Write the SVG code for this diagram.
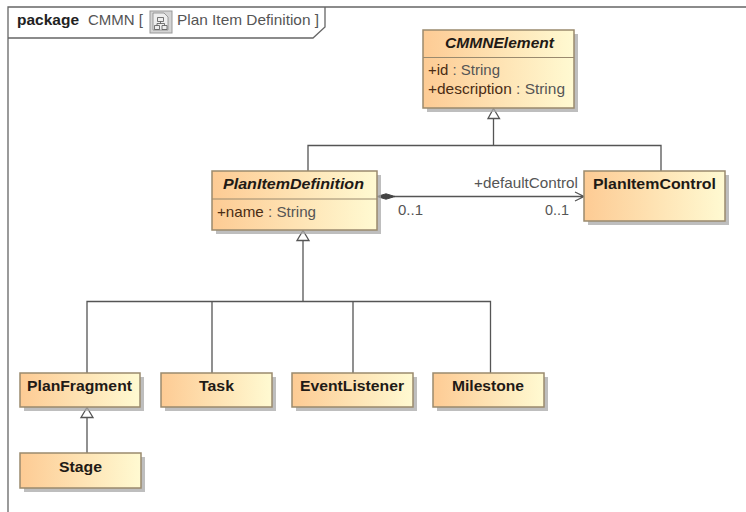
<svg xmlns="http://www.w3.org/2000/svg" width="746" height="512" viewBox="0 0 746 512">
<style>
text{font-family:"Liberation Sans",Arial,sans-serif;font-size:15px;fill:#555}
.h{font-weight:bold;fill:#1f1a16}
.i{font-style:italic}
.b{fill:url(#g);stroke:#9a8a6e;stroke-width:1.5}
.s{fill:#a8a8a8;opacity:.75}
.d{stroke:#9a8a6e;stroke-width:1.2;fill:none}
.c{fill:none;stroke:#555;stroke-width:1.3}
.o{fill:#fff;stroke:#555;stroke-width:1.3}
.a{fill:#4a2c14}
</style>
<defs>
<linearGradient id="g" x1="0" y1="0.5" x2="1" y2="0.5"><stop offset="0" stop-color="#fdcb94"/><stop offset="1" stop-color="#fffad2"/></linearGradient>
</defs>
<rect width="746" height="512" fill="#fff"/>
<g id="frame">
<path d="M8 512V7H746" fill="none" stroke="#666" stroke-width="1.3"/>
<path d="M8 38H313L325 27V7" fill="none" stroke="#666" stroke-width="1.3"/>
<text x="17" y="25" textLength="62" lengthAdjust="spacingAndGlyphs" style="font-weight:bold;fill:#222">package</text>
<text x="88" y="25" textLength="55" lengthAdjust="spacingAndGlyphs">CMMN [</text>
<rect x="150" y="11" width="22" height="22" fill="#d4d4d4" stroke="#999"/>
<path d="M153 13h11l4 4v13h-15z" fill="#eee" stroke="#888" stroke-width=".8"/>
<path d="M157.500 17.500h6v4h-6zM154.500 25.500h5v4h-5zM162 25.500h5v4h-5zM160.500 21.500v2M157 25.500v-2h7.500v2" fill="none" stroke="#555" stroke-width=".8"/>
<text x="177" y="25" textLength="142" lengthAdjust="spacingAndGlyphs">Plan Item Definition ]</text>
</g>
<g id="connectors">
<path class="c" d="M493.500 145.500V118M308 171V145.500H661V171"/>
<path class="o" d="M488 118.500L493.500 108.500L499.500 118.500Z"/>
<path class="c" d="M303 301.500V240"/>
<path class="c" d="M87 373V301.500H490.500V373M212 301.500V373M353 301.500V373"/>
<path class="o" d="M297 240.500L303 230.500L309 240.500Z"/>
<path class="c" d="M87 453V417"/>
<path class="o" d="M81 417.500L87 407.500L93 417.500Z"/>
<path class="c" d="M394 196.500H583M575 192L584 196.500L575 201"/>
<path d="M377 196.500L386 193.800L395 196.500L386 199.200Z" fill="#444" stroke="#444"/>
<text x="474" y="188" textLength="104" lengthAdjust="spacingAndGlyphs">+defaultControl</text>
<text x="398" y="215" textLength="25" lengthAdjust="spacingAndGlyphs">0..1</text>
<text x="545" y="215" textLength="24" lengthAdjust="spacingAndGlyphs">0..1</text>
</g>
<g id="CMMNElement">
<rect class="s" x="427" y="34" width="151" height="78"/>
<rect class="b" x="423" y="30" width="151" height="78"/>
<path class="d" d="M423 57.500H574"/>
<text class="h i" x="445" y="48" textLength="109" lengthAdjust="spacingAndGlyphs">CMMNElement</text>
<text x="428" y="75" textLength="72" lengthAdjust="spacingAndGlyphs"><tspan class="a">+id</tspan> : String</text>
<text x="428" y="94" textLength="137" lengthAdjust="spacingAndGlyphs"><tspan class="a">+description</tspan> : String</text>
</g>
<g id="PlanItemDefinition">
<rect class="s" x="216" y="175" width="165" height="59"/>
<rect class="b" x="212" y="171" width="165" height="59"/>
<path class="d" d="M212 199H377"/>
<text class="h i" x="223" y="189" textLength="141" lengthAdjust="spacingAndGlyphs">PlanItemDefinition</text>
<text x="217" y="217" textLength="99" lengthAdjust="spacingAndGlyphs"><tspan class="a">+name</tspan> : String</text>
</g>
<g id="PlanItemControl">
<rect class="s" x="588" y="175" width="141" height="50"/>
<rect class="b" x="584" y="171" width="141" height="50"/>
<text class="h" x="593" y="189" textLength="123" lengthAdjust="spacingAndGlyphs">PlanItemControl</text>
</g>
<g id="PlanFragment">
<rect class="s" x="24" y="377" width="120" height="34"/>
<rect class="b" x="20" y="373" width="120" height="34"/>
<text class="h" x="27" y="391" textLength="105" lengthAdjust="spacingAndGlyphs">PlanFragment</text>
</g>
<g id="Task">
<rect class="s" x="165" y="377" width="111" height="34"/>
<rect class="b" x="161" y="373" width="111" height="34"/>
<text class="h" x="199" y="391" textLength="35" lengthAdjust="spacingAndGlyphs">Task</text>
</g>
<g id="EventListener">
<rect class="s" x="296" y="377" width="121" height="34"/>
<rect class="b" x="292" y="373" width="121" height="34"/>
<text class="h" x="300" y="391" textLength="104" lengthAdjust="spacingAndGlyphs">EventListener</text>
</g>
<g id="Milestone">
<rect class="s" x="437" y="377" width="111" height="34"/>
<rect class="b" x="433" y="373" width="111" height="34"/>
<text class="h" x="452" y="391" textLength="72" lengthAdjust="spacingAndGlyphs">Milestone</text>
</g>
<g id="Stage">
<rect class="s" x="24" y="457" width="121" height="35"/>
<rect class="b" x="20" y="453" width="121" height="35"/>
<text class="h" x="59" y="472" textLength="43" lengthAdjust="spacingAndGlyphs">Stage</text>
</g>
</svg>
